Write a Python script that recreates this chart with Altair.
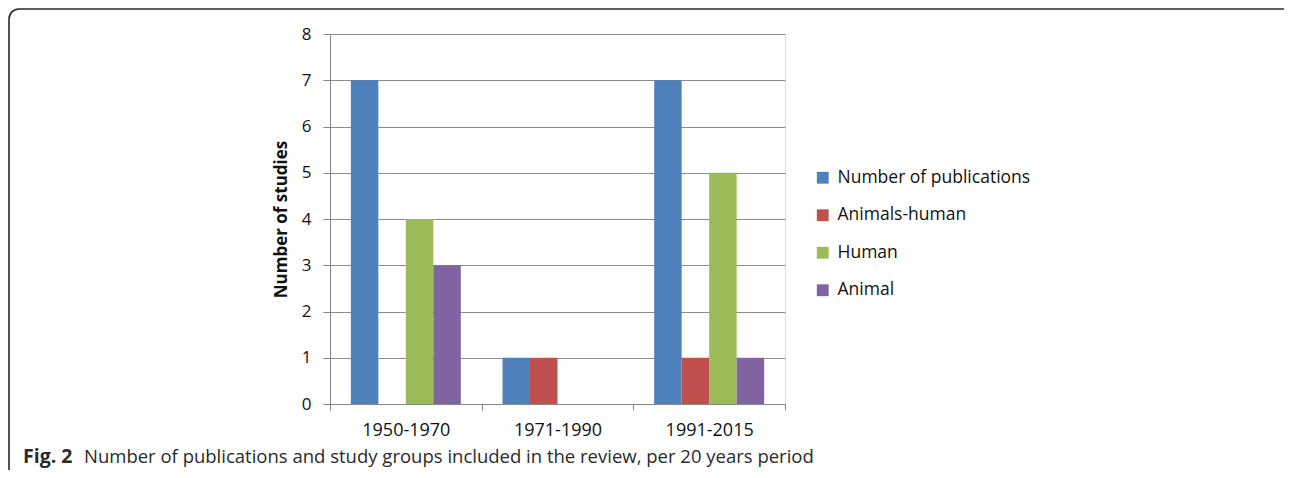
import altair as alt
import pandas as pd

periods = ["1950-1970", "1971-1990", "1991-2015"]
series = ["Number of publications", "Animals-human", "Human", "Animal"]
publications = [7, 1, 7]
animals_human = [0, 1, 1]
human = [4, 0, 5]
animal = [3, 0, 1]
colors = ["#4F81BD", "#C0504D", "#9BBB59", "#8064A2"]
y_ticks = [0, 1, 2, 3, 4, 5, 6, 7, 8]
caption_bold = "Fig. 2"
caption_rest = "Number of publications and study groups included in the review, per 20 years period"

rows = []
for s, vals in zip(series, [publications, animals_human, human, animal]):
    for p, v in zip(periods, vals):
        rows.append({"period": p, "series": s, "value": v})
df = pd.DataFrame(rows)

FONT = "Open Sans"

bars = alt.Chart(df).mark_bar().encode(
    x=alt.X("period:N", sort=periods, title=None,
            scale=alt.Scale(paddingInner=0, paddingOuter=0),
            axis=alt.Axis(labelAngle=0, labelFontSize=18, labelColor="#111",
                          labelFont=FONT, tickBand="extent", tickSize=6,
                          tickColor="#868686", domainColor="#868686",
                          labelPadding=11, grid=False)),
    xOffset=alt.XOffset("series:N", sort=series,
                        scale=alt.Scale(paddingOuter=0.758, paddingInner=0)),
    y=alt.Y("value:Q", title="Number of studies",
            scale=alt.Scale(domain=[0, 8], nice=False),
            axis=alt.Axis(values=y_ticks, labelFontSize=17, labelFont=FONT,
                          labelColor="#111", tickSize=7, tickColor="#868686",
                          domainColor="#868686", gridColor="#8c8c8c",
                          labelPadding=12, titleFont=FONT, titleFontSize=17,
                          titleFontWeight="bold", titleColor="#111",
                          titleX=-40, titleY=185)),
    color=alt.Color("series:N", sort=series,
                    scale=alt.Scale(domain=series, range=colors),
                    legend=alt.Legend(title=None, orient="none", legendX=484,
                                      legendY=135, symbolType="square",
                                      symbolSize=140, symbolStrokeWidth=0,
                                      labelFont=FONT, labelFontSize=17.5,
                                      labelLimit=0,
                                      labelColor="#111", rowPadding=18.5,
                                      labelOffset=6)),
)

one = pd.DataFrame({"a": [0]})

frame = alt.Chart(one).mark_rect(filled=False, stroke="#2a2a2a", strokeWidth=1.6,
                                 cornerRadius=10).encode(
    x=alt.value(-321), x2=alt.value(990), y=alt.value(-25), y2=alt.value(480))

cap1 = alt.Chart(one).mark_text(text=caption_bold, font=FONT, fontSize=19.5,
                                fontWeight="bold", align="left",
                                baseline="alphabetic", color="#2a2a2a").encode(
    x=alt.value(-307), y=alt.value(429))
cap2 = alt.Chart(one).mark_text(text=caption_rest, font=FONT, fontSize=18.5,
                                align="left", baseline="alphabetic",
                                color="#2a2a2a").encode(
    x=alt.value(-246), y=alt.value(429))

chart = alt.layer(frame, bars, cap1, cap2).properties(
    width=455, height=370,
    autosize=alt.AutoSizeParams(type="none"),
    padding={"left": 322, "top": 26, "right": 499, "bottom": 66},
).configure_view(stroke=None).configure(background="white")

chart.save("out.html", embed_options={"renderer": "svg", "actions": False})
